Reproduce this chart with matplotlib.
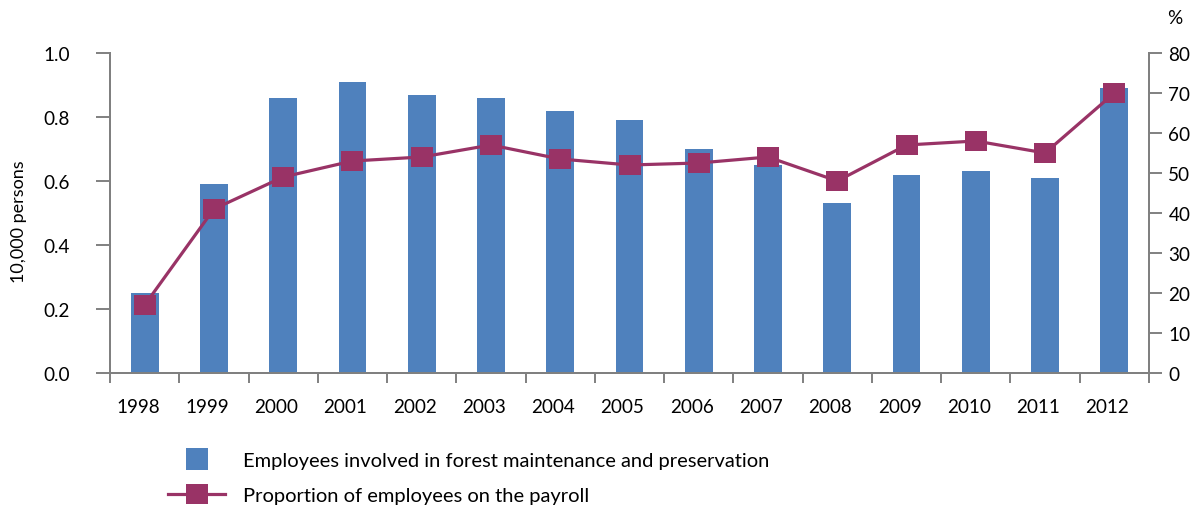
import matplotlib.pyplot as plt
from matplotlib.lines import Line2D

# Dados
years = ["1998", "1999", "2000", "2001", "2002", "2003", "2004", "2005",
         "2006", "2007", "2008", "2009", "2010", "2011", "2012"]
employees = [0.25, 0.59, 0.86, 0.91, 0.87, 0.86, 0.82, 0.79,
             0.70, 0.65, 0.53, 0.62, 0.63, 0.61, 0.89]
payroll_share = [17, 41, 49, 53, 54, 57, 53.5, 52,
                 52.5, 54, 48, 57, 58, 55, 70]

bar_color = "#4F81BD"
line_color = "#993366"
spine_color = "#808080"
tick_fs = 13.6
legend_fs = 14.5

plt.rcParams["font.family"] = ["Lato", "DejaVu Sans"]

fig = plt.figure(figsize=(11.91, 5.10), dpi=100)
ax = fig.add_axes([0.0924, 0.2667, 0.8723, 0.6274])
ax2 = ax.twinx()

x = list(range(len(years)))

# Barras (eixo esquerdo)
ax.bar(x, employees, width=0.4, color=bar_color, zorder=2)

# Linha com marcadores retangulares (eixo direito)
rect = [(-1.15, -1), (1.15, -1), (1.15, 1), (-1.15, 1), (-1.15, -1)]
ax2.plot(x, payroll_share, color=line_color, linewidth=2.3,
         marker=rect, markersize=16, markerfacecolor=line_color,
         markeredgewidth=0)

for a in (ax, ax2):
    a.set_xlim(-0.5, len(years) - 0.5)
    for s in a.spines.values():
        s.set_color(spine_color)
        s.set_linewidth(1.4)
    a.spines["top"].set_visible(False)

ax.set_ylim(0, 1.0)
ax.set_yticks([0.0, 0.2, 0.4, 0.6, 0.8, 1.0])
ax.set_yticklabels(["0.0", "0.2", "0.4", "0.6", "0.8", "1.0"])
ax2.set_ylim(0, 80)
ax2.set_yticks(range(0, 81, 10))

# Ticks do eixo x nas divisões, rótulos no meio das categorias
ax.set_xticks([i - 0.5 for i in range(len(years) + 1)])
ax.set_xticklabels([])
ax.set_xticks([i - 0.1 for i in x], minor=True)
ax.set_xticklabels(years, minor=True)
ax.tick_params(axis="x", which="major", length=7, width=1.4, color=spine_color)
ax.tick_params(axis="x", which="minor", length=0, pad=18, labelsize=tick_fs)
ax.tick_params(axis="y", length=10, width=1.4, color=spine_color, pad=19, labelsize=tick_fs)
ax2.tick_params(axis="y", length=9, width=1.4, color=spine_color, pad=5, labelsize=tick_fs)

fig.text(19 / 1191, 1 - 222 / 510, "10,000 persons", rotation=90,
         ha="center", va="center", fontsize=13)
ax2.text(1.025, 1.112, "%", transform=ax2.transAxes, ha="center", va="center",
         fontsize=tick_fs)

handles = [
    Line2D([], [], linestyle="none", marker="s", markersize=16.5,
           markerfacecolor=bar_color, markeredgewidth=0),
    Line2D([], [], color=line_color, linewidth=2.3, marker=rect, markersize=16,
           markerfacecolor=line_color, markeredgewidth=0),
]
labels = ["Employees involved in forest maintenance and preservation",
          "Proportion of employees on the payroll"]
fig.legend(handles, labels, loc="upper left", bbox_to_anchor=(0.141, 0.112),
           frameon=False, fontsize=legend_fs, handlelength=2.85, handletextpad=0.9,
           labelspacing=0.9, borderpad=0, borderaxespad=0)

fig.savefig("out.png", dpi=100)
